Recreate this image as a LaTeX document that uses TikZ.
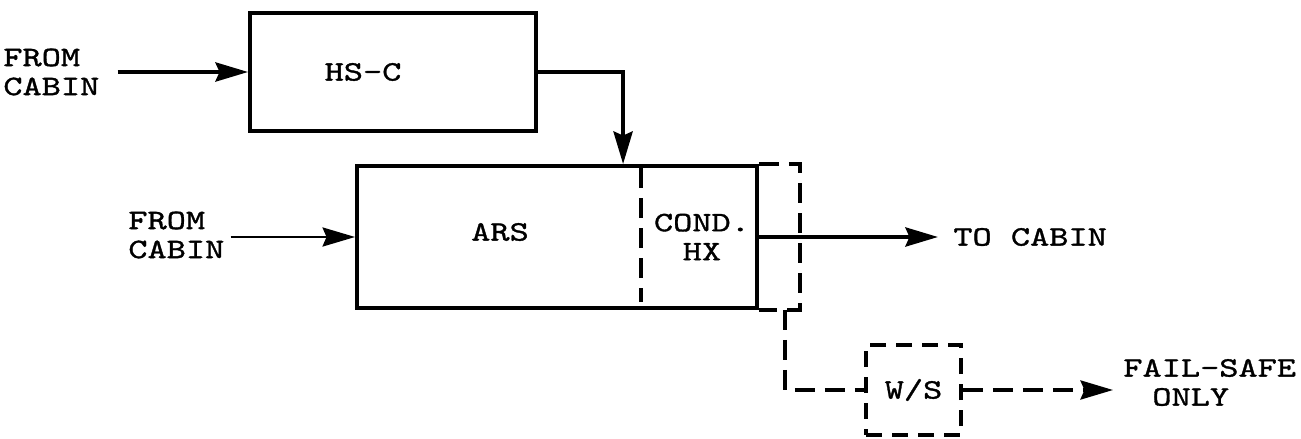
\documentclass[tikz,border=0pt]{standalone}
\usepackage{fontspec}
\setmonofont{lmmono10-regular.otf}[FakeStretch=1.3, FakeBold=1.2]
\usepackage{tikz}
\usetikzlibrary{arrows.meta,positioning,calc}
\newcommand{\labfont}{\fontsize{16}{16.5}\selectfont\ttfamily}

\begin{document}
\begin{tikzpicture}[
  blk/.style={rectangle, draw, line width=2.2pt, inner sep=0pt},
  wsbox/.style={rectangle, draw, line width=2pt, dash pattern=on 3.2mm off 2mm, inner sep=0pt, minimum width=1.9cm, minimum height=1.8cm},
  lbl/.style={font=\labfont, inner sep=0pt, align=left},
  arr/.style={-{Stealth[length=6.5mm, width=3.8mm, inset=0.8mm]}, line width=2.4pt},
  dashln/.style={line width=2pt, dash pattern=on 4mm off 2mm},
  dasharr/.style={dashln, -{Stealth[length=6.5mm, width=3.8mm, inset=0.8mm]}}
]
  \useasboundingbox (0,0) rectangle (26.02,-8.78);

  % boxes
  \node[blk, minimum width=5.72cm, minimum height=2.36cm] (hsc) at (7.86,-1.44) {};
  \node[lbl] (hsctxt) at ([xshift=-0.6cm]hsc.center) {HS-C};
  \node[blk, minimum width=8.0cm, minimum height=2.84cm] (ars) at (11.14,-4.74) {};
  \node[lbl] (arstxt) at ([xshift=-1.14cm, yshift=0.1cm]ars.center) {ARS};
  \node[lbl, align=center] (condhx) at ([xshift=-1.14cm]ars.east) {COND.\\HX};
  \node[wsbox] (ws) at (18.27,-7.8) {};
  \node[lbl] (wstxt) at (ws.center) {W/S};

  % texts
  \node[lbl, anchor=west] (fromA) at (0.06,-1.44) {FROM\\CABIN};
  \node[lbl, anchor=west] (fromB) at (2.56,-4.70) {FROM\\CABIN};
  \node[lbl, anchor=west] (tocab) at (19.06,-4.74) {TO CABIN};
  \node[lbl, anchor=west] (failsafe) at (22.46,-7.65) {FAIL-SAFE\\\hspace*{0.58cm}ONLY};

  % condenser split and bypass
  \coordinate (divtop) at ([xshift=5.72cm, yshift=-0.08cm]ars.north west);
  \coordinate (divbot) at ([xshift=5.72cm, yshift=0.16cm]ars.south west);
  \draw[dashln] (divtop) -- (divbot);
  \coordinate (arsin) at ([xshift=5.36cm]ars.north west);
  \coordinate (bypass) at ([xshift=0.52cm]ars.south east);

  \draw[arr] ([xshift=0.36cm]fromA.east |- hsc.west) -- (hsc.west);
  \draw[arr, line width=1.6pt] ([xshift=0.12cm]fromB.east |- ars.west) -- (ars.west);
  \draw[arr] (hsc.east) -| (arsin);
  \draw[arr] (ars.east) -- ([xshift=-0.3cm]tocab.west);
  \draw[dashln] (ars.north east) -- ++(0.82,0) |- (ars.south east);
  \draw[dashln] (bypass) |- (ws.west);
  \draw[dasharr] (ws.east) -- ([xshift=-0.2cm]failsafe.west |- ws.east);
\end{tikzpicture}
\end{document}
